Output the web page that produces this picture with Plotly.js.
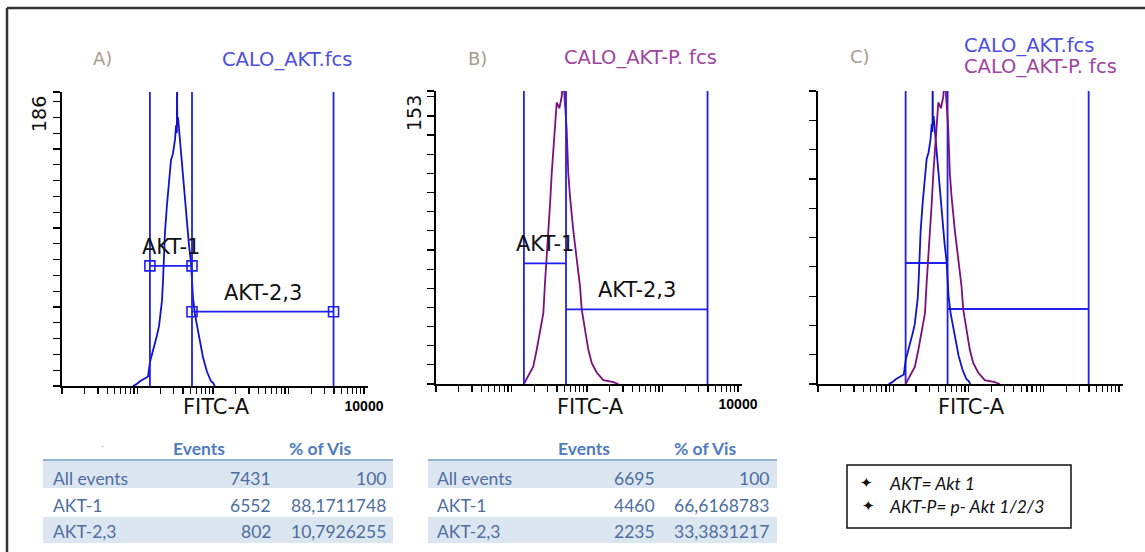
<!DOCTYPE html>
<html>
<head>
<meta charset="utf-8">
<script src="https://cdn.plot.ly/plotly-3.0.1.min.js"></script>
<style>html,body{margin:0;padding:0;background:#fff;} #chart{width:1145px;height:552px;}</style>
</head>
<body>
<div id="chart"></div>
<script>
// ---------------- data ----------------
const panelLabels = ['A)', 'B)', 'C)'];
const fileNames = ['CALO_AKT.fcs', 'CALO_AKT-P. fcs'];
const axisTitle = 'FITC-A';
const xTickLabel = '10000';

// AKT histogram (FITC-A intensity, counts)
const aktX = [8.7, 9.6, 10.8, 11.8, 13.0, 13.8, 14.6, 15.6, 17.1, 18.1, 19.3, 20.5, 21.1, 21.8, 22.4, 23.1,
  24.6, 26.1, 27.8, 29.5, 31.4, 32.4, 33.2, 33.4, 33.6, 34.4, 35.5, 36.5, 38.8, 40.1, 42.6, 45.3, 48.1, 51.1,
  54.3, 57.8, 61.4, 65.3, 69.3, 73.8, 78.3, 83.3, 88.5, 94.1, 100, 106];
const aktCounts = [0, 1, 3, 4, 5, 6, 15, 20, 28, 32, 38, 47, 54, 67, 83, 97,
  115, 130, 143, 147, 156, 165, 160, 200, 168, 170, 162, 156, 138, 132, 120, 102, 89, 78,
  56, 45, 39, 31, 25, 18, 13, 9, 6, 3, 2, 0];

// AKT-P histogram
const aktPX = [14.6, 16.7, 19.4, 21.6, 23.8, 26.4, 27.8, 29.3, 30.7, 32.4, 34.1, 35.8, 37.7, 39.7, 43.0, 46.2,
  48.5, 51.1, 53.8, 56.5, 59.5, 65.9, 73.1, 80.8, 85.1, 94.1, 104, 115.4, 134.5, 164.4, 223, 260];
const aktPCounts = [0, 4, 9, 18, 28, 37, 53, 66, 80, 94, 110, 121, 134, 147, 144, 150,
  160, 144, 133, 110, 98, 80, 66, 51, 39, 28, 18, 11, 6, 2, 1, 0];

const countMax = [186, 153];        // y-axis maxima of panels A and B
const overlayMax = 100;             // panel C axis (% of max)
const gateNames = ['AKT-1', 'AKT-2,3'];
const gateEdges = [14.6, 52.7, 3950];
const gateHeightsA = [76, 47];
const gateHeightsB = [63, 39];
const gateHeightsC = [41.3, 25.6];

const tableHeaders = ['Events', '% of Vis'];
const tableRows = ['All events', 'AKT-1', 'AKT-2,3'];
const eventsA = [7431, 6552, 802];
const pctA = ['100', '88,1711748', '10,7926255'];
const eventsB = [6695, 4460, 2235];
const pctB = ['100', '66,6168783', '33,3831217'];

const legendNotes = ['AKT= Akt 1', 'AKT-P= p- Akt 1/2/3'];

// ---------------- layout helpers ----------------
const W = 1145, H = 552;
const px = v => v / W;
const py = v => 1 - v / H;

const BLUE_H = '#1212cc', PURPLE_H = '#7d0f7d', GATE = '#1f1ff2';
const FONT = 'DejaVu Sans';
const LOG_RANGE = [0, 4.053];

function logTicks(withLabel) {
  const vals = [], txt = [];
  for (let k = 0; k <= 4; k++) {
    for (let d = 1; d <= 9; d++) {
      const v = d * Math.pow(10, k);
      if (Math.log10(v) <= LOG_RANGE[1]) {
        vals.push(v);
        txt.push(withLabel && v === 10000 ? xTickLabel : '');
      }
    }
  }
  return {vals, txt};
}
function linTicks(max) {
  const v = [];
  for (let t = 0; t <= max; t += 10) v.push(t);
  if (v[v.length - 1] !== max) v.push(max);
  return v;
}
function xAxis(domain, anchor, withLabel) {
  const t = logTicks(withLabel);
  return {
    domain, anchor, type: 'log', range: LOG_RANGE, showgrid: false, zeroline: false,
    showline: true, linecolor: '#000', linewidth: 2, mirror: false,
    ticks: 'outside', ticklen: 6, tickwidth: 1.2, tickcolor: '#000',
    tickmode: 'array', tickvals: t.vals, ticktext: t.txt,
    tickfont: {family: 'Liberation Sans', size: 14, color: '#000', weight: 'bold'}
  };
}
function yAxis(domain, anchor, max) {
  return {
    domain, anchor, range: [0, max], showgrid: false, zeroline: false,
    showline: true, linecolor: '#000', linewidth: 2,
    ticks: 'outside', ticklen: 7, tickwidth: 1.2, tickcolor: '#000',
    tickmode: 'array', tickvals: linTicks(max), showticklabels: false
  };
}

const dom = {
  A: {x: [px(62), px(368)], y: [py(386), py(92)]},
  B: {x: [px(436), px(742)], y: [py(384), py(91)]},
  C: {x: [px(818), px(1123)], y: [py(384), py(91)]}
};

function histTrace(x, y, color, xa, ya) {
  return {type: 'scatter', mode: 'lines', x, y, xaxis: xa, yaxis: ya,
    line: {color, width: 1.8}, hoverinfo: 'skip'};
}
function gateTraces(heights, top, xa, ya, markers) {
  const e = gateEdges;
  const vx = [], vy = [];
  e.forEach(g => { vx.push(g, g, null); vy.push(0, top, null); });
  const hx = [e[0], e[1], null, e[1], e[2]];
  const hy = [heights[0], heights[0], null, heights[1], heights[1]];
  return [
    {type: 'scatter', mode: 'lines', x: vx, y: vy, xaxis: xa, yaxis: ya, line: {color: GATE, width: 1.8}, hoverinfo: 'skip'},
    {type: 'scatter', mode: markers ? 'lines+markers' : 'lines', x: hx, y: hy, xaxis: xa, yaxis: ya,
      line: {color: GATE, width: 1.8}, hoverinfo: 'skip',
      marker: {symbol: 'square-open', size: 10, color: GATE, line: {width: 1.6, color: GATE}}}
  ];
}

const data = [];
data.push(histTrace(aktX, aktCounts, BLUE_H, 'x', 'y'));
data.push(...gateTraces(gateHeightsA, countMax[0], 'x', 'y', true));
data.push(histTrace(aktPX, aktPCounts, PURPLE_H, 'x2', 'y2'));
data.push(...gateTraces(gateHeightsB, countMax[1], 'x2', 'y2', false));
data.push(histTrace(aktX, aktCounts, BLUE_H, 'x3', 'y4'));
data.push(histTrace(aktPX, aktPCounts, PURPLE_H, 'x3', 'y5'));
data.push(...gateTraces(gateHeightsC, overlayMax, 'x3', 'y3', false));

// ---------------- annotations & shapes ----------------
const ann = [];
const shapes = [];
function txt(x, y, text, size, color, extra) {
  return Object.assign({xref: 'paper', yref: 'paper', x: px(x), y: py(y), text, showarrow: false,
    font: {family: FONT, size, color}, xanchor: 'center', yanchor: 'middle'}, extra || {});
}
const TAN = '#a89c8e', TBLUE = '#4e4ee0', TPURPLE = '#a044a0';
ann.push(txt(103, 58, panelLabels[0], 18, TAN));
ann.push(txt(220, 59, fileNames[0], 19.5, TBLUE, {xanchor: 'left'}));
ann.push(txt(477, 58, panelLabels[1], 18, TAN));
ann.push(txt(562, 57, fileNames[1], 19.5, TPURPLE, {xanchor: 'left'}));
ann.push(txt(860, 56, panelLabels[2], 18, TAN));
ann.push(txt(962, 45, fileNames[0], 19.5, TBLUE, {xanchor: 'left'}));
ann.push(txt(962, 67, fileNames[1], 19.5, TPURPLE, {xanchor: 'left'}));
ann.push(txt(39, 114, String(countMax[0]), 19, '#111', {textangle: -90}));
ann.push(txt(414, 113, String(countMax[1]), 19, '#111', {textangle: -90}));
ann.push(txt(216, 407, axisTitle, 21, '#111'));
ann.push(txt(590, 407, axisTitle, 21, '#111'));
ann.push(txt(971, 407, axisTitle, 21, '#111'));
function gateLabels(xa, ya, heights) {
  gateNames.forEach((n, i) => {
    ann.push({xref: xa, yref: ya, x: Math.log10(Math.sqrt(gateEdges[i] * gateEdges[i + 1])), y: heights[i],
      yshift: 19, text: n, showarrow: false, font: {family: FONT, size: 21, color: '#111'},
      xanchor: 'center', yanchor: 'middle'});
  });
}
gateLabels('x', 'y', gateHeightsA);
gateLabels('x2', 'y2', gateHeightsB);

// tables (drawn with shapes + text)
const TBL_HEAD = '#4f7cc0', TBL_TXT = '#4d6e9f', TBL_FILL = '#dce6f1';
const rowTop = [461, 488, 517], rowBot = [488, 517, 543], rowMid = [478, 505, 531.5];
function table(x0, x1, labelX, evRight, pctRight, evHeadX, pctHeadX, events, pcts) {
  tableRows.forEach((r, i) => {
    if (i % 2 === 0) shapes.push({type: 'rect', xref: 'paper', yref: 'paper', x0: px(x0), x1: px(x1),
      y0: py(rowBot[i]), y1: py(rowTop[i]), fillcolor: TBL_FILL, line: {width: 0}, layer: 'below'});
    const f = {family: 'Lato', size: 17.5, color: TBL_TXT};
    ann.push(txt(labelX, rowMid[i], r, 17.5, TBL_TXT, {xanchor: 'left', font: f}));
    ann.push(txt(evRight, rowMid[i], String(events[i]), 17.5, TBL_TXT, {xanchor: 'right', font: f}));
    ann.push(txt(pctRight, rowMid[i], pcts[i], 17.5, TBL_TXT, {xanchor: 'right', font: f}));
  });
  const hf = {family: 'Lato', size: 17.5, color: TBL_HEAD, weight: 'bold'};
  ann.push(txt(evHeadX, 448, tableHeaders[0], 17.5, TBL_HEAD, {xanchor: 'left', font: hf}));
  ann.push(txt(pctHeadX, 448, tableHeaders[1], 17.5, TBL_HEAD, {xanchor: 'left', font: hf}));
  shapes.push({type: 'line', xref: 'paper', yref: 'paper', x0: px(x0), x1: px(x1), y0: py(460), y1: py(460),
    line: {color: '#95b3d7', width: 2}});
}
table(43, 393, 51, 273, 388, 171, 287, eventsA, pctA);
table(428, 777, 435, 657, 771, 556, 672, eventsB, pctB);
ann.push(txt(103, 446, '·', 10, '#9a9a9a'));

// legend notes
legendNotes.forEach((n, i) => {
  ann.push(txt(866 + i * 2, 483 + i * 23, '✦', 15, '#111', {font: {family: 'DejaVu Sans', size: 15, color: '#111'}}));
  ann.push(txt(887, 483 + i * 23, '<i>' + n + '</i>', 17.5, '#111', {xanchor: 'left', font: {family: 'Lato', size: 17.5, color: '#111'}}));
});

shapes.push(
  {type: 'line', xref: 'paper', yref: 'paper', x0: px(7), x1: px(7), y0: py(8), y1: py(552), line: {color: '#333', width: 2.5}},
  {type: 'line', xref: 'paper', yref: 'paper', x0: px(7), x1: px(1145), y0: py(8), y1: py(8), line: {color: '#333', width: 2.5}},
  {type: 'rect', xref: 'paper', yref: 'paper', x0: px(847), x1: px(1071), y0: py(528), y1: py(465), line: {color: '#111', width: 1.5}}
);

const layout = {
  width: W, height: H, margin: {l: 0, r: 0, t: 0, b: 0},
  paper_bgcolor: '#fff', plot_bgcolor: 'rgba(0,0,0,0)', showlegend: false,
  xaxis: xAxis(dom.A.x, 'y', true),
  yaxis: yAxis(dom.A.y, 'x', countMax[0]),
  xaxis2: xAxis(dom.B.x, 'y2', true),
  yaxis2: yAxis(dom.B.y, 'x2', countMax[1]),
  xaxis3: xAxis(dom.C.x, 'y3', false),
  yaxis3: yAxis(dom.C.y, 'x3', overlayMax),
  yaxis4: {overlaying: 'y3', anchor: 'x3', range: [0, countMax[0]], visible: false},
  yaxis5: {overlaying: 'y3', anchor: 'x3', range: [0, countMax[1]], visible: false},
  annotations: ann, shapes
};

Plotly.newPlot('chart', data, layout, {displayModeBar: false, staticPlot: true});
</script>
</body>
</html>
